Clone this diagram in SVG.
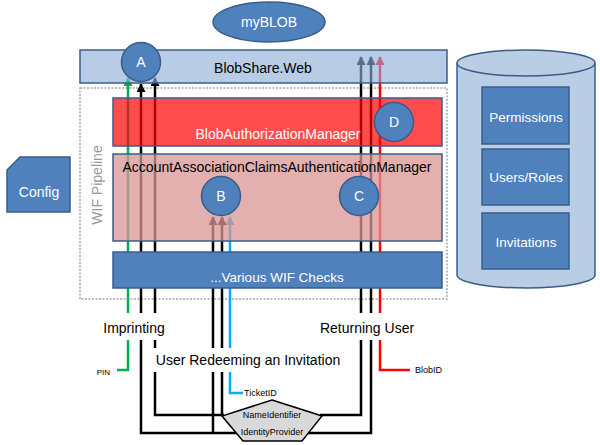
<svg xmlns="http://www.w3.org/2000/svg" width="600" height="445" viewBox="0 0 600 445">
<style>
text{font-family:"Liberation Sans",Arial,sans-serif;font-size:14px;text-anchor:middle}
.w{fill:#fff}
.k{fill:#000}
.sm{font-size:9px}
.blue{fill:#4f81bd;stroke:#385d8a;stroke-width:1.5}
.circ{fill:#4f81bd;stroke:#385d8a;stroke-width:1.5}
.ln{fill:none;stroke-width:2.5}
.lab{fill:#fff;stroke:none}
</style>
<defs>
<marker id="ak" markerUnits="userSpaceOnUse" markerWidth="9" markerHeight="9" refX="8" refY="4.5" orient="auto"><path d="M0,0 L9,4.5 L0,9 z" fill="#000"/></marker>
<marker id="ag" markerUnits="userSpaceOnUse" markerWidth="9" markerHeight="9" refX="8" refY="4.5" orient="auto"><path d="M0,0 L9,4.5 L0,9 z" fill="#00b050"/></marker>
<marker id="ab" markerUnits="userSpaceOnUse" markerWidth="9" markerHeight="9" refX="8" refY="4.5" orient="auto"><path d="M0,0 L9,4.5 L0,9 z" fill="#00b0f0"/></marker>
<marker id="ar" markerUnits="userSpaceOnUse" markerWidth="9" markerHeight="9" refX="8" refY="4.5" orient="auto"><path d="M0,0 L9,4.5 L0,9 z" fill="#ff0000"/></marker>
</defs>

<g id="wif-pipeline">
<rect x="80" y="88" width="367" height="211" fill="none" stroke="#a6a6a6" stroke-width="1.5" stroke-dasharray="2,1.5"/>
<text transform="translate(102,185) rotate(-90)" style="fill:#999;font-size:14px">WIF Pipeline</text>
</g>

<g id="connectors">
<path class="ln" stroke="#00b050" d="M117,370 H128 V78" marker-end="url(#ag)"/>
<path class="ln" stroke="#000" d="M240,433 H141 V84" marker-end="url(#ak)"/>
<path class="ln" stroke="#000" d="M224,415 H155 V78" marker-end="url(#ak)"/>
<path class="ln" stroke="#000" d="M213,433 V217" marker-end="url(#ak)"/>
<path class="ln" stroke="#000" d="M222,415 V217" marker-end="url(#ak)"/>
<path class="ln" stroke="#00b0f0" d="M243,393 H230 V217" marker-end="url(#ab)"/>
<path class="ln" stroke="#000" d="M320,415 H361 V57" marker-end="url(#ak)"/>
<path class="ln" stroke="#000" d="M300,433 H371 V57" marker-end="url(#ak)"/>
<path class="ln" stroke="#ff0000" d="M410,370 H380 V57" marker-end="url(#ar)"/>
</g>

<g id="blobshare-web">
<rect x="80" y="50" width="367" height="33" fill="#8fafd6" fill-opacity="0.63" stroke="#385d8a" stroke-width="1.5"/>
<text class="k" x="263" y="73">BlobShare.Web</text>
</g>

<g id="blob-authorization-manager">
<rect x="113" y="98" width="329" height="48" fill="#ff0000" fill-opacity="0.7" stroke="#385d8a" stroke-width="1.5"/>
<text class="w" x="278" y="139">BlobAuthorizationManager</text>
</g>

<g id="claims-authentication-manager">
<rect x="113" y="154" width="329" height="87" fill="#d99694" fill-opacity="0.75" stroke="#385d8a" stroke-width="1.5"/>
<text class="k" x="277" y="172">AccountAssociationClaimsAuthenticationManager</text>
</g>

<g id="various-wif-checks">
<rect class="blue" x="113" y="252" width="329" height="36"/>
<text class="w" x="277" y="282" style="font-size:13.5px">...Various WIF Checks</text>
</g>

<g id="myblob">
<ellipse class="blue" cx="269" cy="22" rx="56" ry="20"/>
<text class="w" x="269" y="27">myBLOB</text>
</g>

<g id="circle-a"><circle class="circ" cx="141" cy="62" r="19.5"/><text class="w" x="141" y="67">A</text></g>
<g id="circle-b"><circle class="circ" cx="221" cy="196" r="19.5"/><text class="w" x="221" y="201">B</text></g>
<g id="circle-c"><circle class="circ" cx="359" cy="196" r="19.5"/><text class="w" x="359" y="201">C</text></g>
<g id="circle-d"><circle class="circ" cx="394" cy="122" r="19.5"/><text class="w" x="394" y="127">D</text></g>

<g id="config">
<path class="blue" d="M20,157 H70 V212 H7 V170 Z"/>
<text class="w" x="39" y="197">Config</text>
</g>

<g id="database">
<path d="M457,63 V275 A69,13 0 0 0 595,275 V63" fill="#b9cde5" stroke="#385d8a" stroke-width="1.5"/>
<ellipse cx="526" cy="63" rx="69" ry="13" fill="#b9cde5" stroke="#385d8a" stroke-width="1.5"/>
</g>
<g id="permissions"><rect class="blue" x="482" y="87" width="87" height="57"/><text class="w" x="526" y="122" style="font-size:13.5px">Permissions</text></g>
<g id="users-roles"><rect class="blue" x="482" y="149" width="87" height="56"/><text class="w" x="526" y="182" style="font-size:13.5px">Users/Roles</text></g>
<g id="invitations"><rect class="blue" x="482" y="213" width="87" height="56"/><text class="w" x="526" y="247" style="font-size:13.5px">Invitations</text></g>

<g id="claims-token">
<path d="M272,400 L322,416 L302,441 L243,441 L222,416 Z" fill="#d9d9d9" stroke="#000" stroke-width="1.5"/>
<text class="k sm" x="272" y="418">NameIdentifier</text>
<text class="k sm" x="272" y="435">IdentityProvider</text>
</g>

<g id="label-imprinting">
<rect class="lab" x="100" y="313" width="70" height="27"/>
<text class="k" x="134" y="333">Imprinting</text>
</g>
<g id="label-returning-user">
<rect class="lab" x="318" y="313" width="98" height="27"/>
<text class="k" x="367" y="333">Returning User</text>
</g>
<g id="label-redeeming">
<rect class="lab" x="152" y="348" width="192" height="24"/>
<text class="k" x="248" y="365">User Redeeming an Invitation</text>
</g>
<g id="small-labels">
<text class="k sm" x="110" y="375" style="text-anchor:end;font-size:8px">PIN</text>
<text class="k sm" x="244" y="396" style="text-anchor:start">TicketID</text>
<text class="k sm" x="415" y="373" style="text-anchor:start">BlobID</text>
</g>
</svg>
